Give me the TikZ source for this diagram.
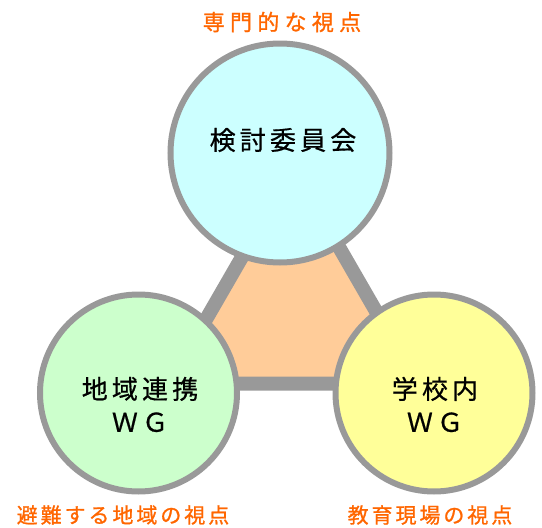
\documentclass[tikz,border=0pt]{standalone}
\usepackage{fontspec}
\newfontfamily\jpin[LetterSpace=16,FakeBold=0.6]{Noto Sans CJK JP}
\newfontfamily\jptop[LetterSpace=24,FakeBold=1]{Noto Sans CJK JP}
\newfontfamily\jpbot[LetterSpace=14,FakeBold=1]{Noto Sans CJK JP}
\definecolor{bordergray}{HTML}{999999}
\definecolor{labelorange}{HTML}{FF6600}
\definecolor{triorange}{HTML}{FFCC99}
\definecolor{topcyan}{HTML}{CCFFFF}
\definecolor{leftgreen}{HTML}{CCFFCC}
\definecolor{rightyellow}{HTML}{FFFF99}
\tikzset{
  groupcircle/.style={circle, draw=bordergray, line width=6pt, inner sep=0pt},
  intext/.style={font=\fontsize{26}{33}\jpin, align=center, text=black, inner sep=0pt},
  viewlabel/.style={text=labelorange, inner sep=0pt},
}
\begin{document}
\begin{tikzpicture}[x=1pt,y=-1pt]
\useasboundingbox (0,0) rectangle (542,528);
% triangle
\coordinate (tA) at (293.4,168);
\coordinate (tB) at (169,383.5);
\coordinate (tC) at (417.7,383.5);
\draw[bordergray, line width=14pt, fill=triorange, line join=miter] (tA) -- (tB) -- (tC) -- cycle;
% circles
\node[groupcircle, fill=topcyan, minimum size=219pt] (iin) at (280,153) {};
\node[groupcircle, fill=leftgreen, minimum size=197pt] (chiiki) at (138.5,393) {};
\node[groupcircle, fill=rightyellow, minimum size=197pt] (gakko) at (434,393) {};
% texts in circles
\node[intext] (iintext) at (283,140) {検討委員会};
\node[intext] (chiikitext) at (140,404.5) {地域連携\\ＷＧ};
\node[intext] (gakkotext) at (435,404.5) {学校内\\ＷＧ};
% view labels
\node[viewlabel, font=\fontsize{22}{26}\jptop] (senmon) at (282,22) {専門的な視点};
\node[viewlabel, font=\fontsize{21}{25}\jpbot] (hinan) at (123,515) {避難する地域の視点};
\node[viewlabel, font=\fontsize{21}{25}\jpbot] (kyoiku) at (430,515) {教育現場の視点};
\end{tikzpicture}
\end{document}
